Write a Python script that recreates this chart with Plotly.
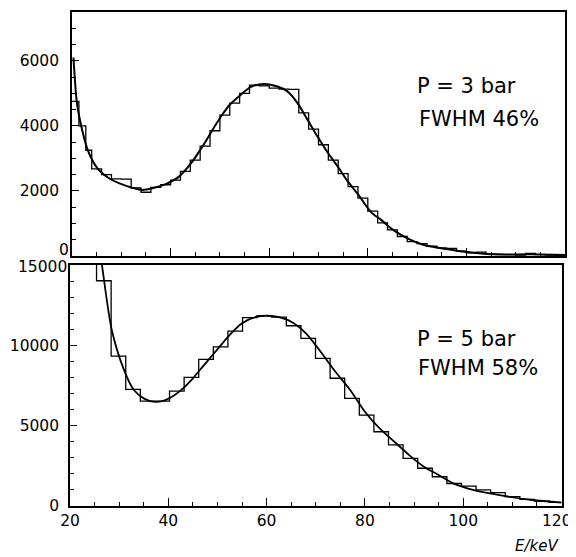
import plotly.graph_objects as go

# ---------------- data ----------------
# top panel (P = 3 bar): histogram bin edges / counts and fitted curve
top_edges = [20, 21.4, 22.8, 24, 26, 28, 30, 32, 34, 36, 38, 40, 42, 44, 46, 48, 50,
             52, 54, 56, 58, 60, 62, 64, 66, 68, 70, 72, 74, 76, 78, 80, 82, 84, 86,
             88, 90, 92, 94, 96, 98, 100, 102, 104, 106, 108, 110, 112, 114, 116, 118, 120]
top_counts = [4750, 4000, 3250, 2680, 2500, 2370, 2360, 2090, 1960, 2110, 2190, 2330,
              2600, 2950, 3380, 3850, 4330, 4700, 5000, 5250, 5230, 5160, 5130, 5120,
              4400, 3900, 3420, 2950, 2530, 2130, 1780, 1380, 1020, 800, 600, 440, 380,
              300, 250, 230, 150, 100, 120, 60, 40, 40, 30, 80, 40, 30, 20]
top_fit_E = [20.3, 20.55, 21.0, 22.05, 23.07, 24.1, 25.4, 27.5, 29.5, 32.2, 34.2, 36.3,
             39.0, 41.7, 44.4, 46.1, 47.5, 48.8, 50.5, 52.0, 54.2, 56.3, 59.0, 61.7,
             63.7, 65.75, 67.8, 69.8, 71.85, 73.9, 75.9, 78.0, 80.65, 82.7, 84.7, 86.75,
             88.8, 90.8, 92.8, 96.2, 99.6, 103.0, 106.4, 113.2, 120.0]
top_fit_N = [6100, 5500, 4700, 3880, 3310, 2950, 2650, 2390, 2240, 2100, 2030, 2080,
             2210, 2440, 2900, 3280, 3620, 3950, 4350, 4650, 4950, 5200, 5290, 5210,
             5060, 4700, 4180, 3670, 3180, 2750, 2300, 1900, 1350, 1110, 850, 650,
             490, 370, 290, 210, 130, 80, 50, 50, 30]

# bottom panel (P = 5 bar)
bot_edges = [22.43, 25.40, 28.37, 31.34, 34.31, 37.28, 40.25, 43.22, 46.19, 49.16,
             52.13, 55.10, 58.07, 61.04, 64.01, 66.98, 69.95, 72.92, 75.89, 78.86,
             81.83, 84.80, 87.77, 90.74, 93.71, 96.68, 99.65, 102.62, 105.59, 108.56,
             111.53, 114.50, 117.47, 120.0]
bot_counts = [16000, 14020, 9330, 7260, 6530, 6530, 7150, 8010, 9130, 9910,
              10890, 11720, 11850, 11750, 11220, 10430, 9190, 7950, 6700, 5660,
              4620, 3800, 2970, 2350, 1820, 1400, 1240, 1000, 830, 580, 415, 300, 230]
bot_fit_E = [25.9, 26.5, 28.5, 31, 33, 35, 37, 39, 41, 43, 45, 47, 49, 51, 52, 55, 58,
             60, 62, 65, 68, 71, 74, 77, 80, 83, 86, 89, 92, 95, 98, 102, 108, 114, 120]
bot_fit_N = [16200, 15000, 10950, 8460, 7220, 6700, 6490, 6550, 6845, 7320, 7950,
             8670, 9400, 10120, 10480, 11370, 11780, 11840, 11780, 11470, 10750, 9600,
             8360, 7220, 5870, 4830, 4000, 3170, 2450, 1930, 1410, 1000, 640, 373, 210]

top_ticks = [0, 2000, 4000, 6000]
top_ticktext = ["", "2000", "4000", "6000"]      # "0" drawn separately (squeezed)
bot_ticks = [0, 5000, 10000, 15000]
bot_ticktext = ["0", "5000", "10000", ""]        # "15000" drawn separately
x_ticks = [20, 40, 60, 80, 100, 120]
x_ticktext = ["20", "40", "60", "80", "100", ""]  # "120" drawn separately

# ---------------- figure ----------------
# the page body has an 8 px margin, so the figure is drawn 8 px smaller
# and positions are given in window pixels minus that offset
OFF = 8
W, H = 576 - OFF, 557 - OFF
def fx(p):
    return (p - OFF) / W
def fy(p):
    return 1 - (p - OFF) / H

FONT = "DejaVu Sans"
TICK_SIZE = 15.5
fig = go.Figure()

fig.add_trace(go.Scatter(x=top_edges, y=top_counts + [top_counts[-1]], mode="lines",
                         line=dict(color="black", width=1.3, shape="hv"),
                         xaxis="x2", yaxis="y2", hoverinfo="skip"))
fig.add_trace(go.Scatter(x=top_fit_E, y=top_fit_N, mode="lines",
                         line=dict(color="black", width=2, shape="spline", smoothing=0.8),
                         xaxis="x2", yaxis="y2", hoverinfo="skip"))
fig.add_trace(go.Scatter(x=bot_edges, y=bot_counts + [bot_counts[-1]], mode="lines",
                         line=dict(color="black", width=1.3, shape="hv"),
                         xaxis="x", yaxis="y", hoverinfo="skip"))
fig.add_trace(go.Scatter(x=bot_fit_E, y=bot_fit_N, mode="lines",
                         line=dict(color="black", width=1.8, shape="spline", smoothing=0.8),
                         xaxis="x", yaxis="y", hoverinfo="skip"))

axis_common = dict(showline=True, linecolor="black", linewidth=1.6, mirror=True,
                   showgrid=False, zeroline=False, ticks="inside", tickcolor="black",
                   tickwidth=1.3, automargin=False, ticklabeloverflow="allow",
                   tickfont=dict(family=FONT, size=TICK_SIZE, color="black"))

fig.update_layout(
    width=W, height=H, showlegend=False,
    margin=dict(l=0, r=0, t=0, b=0),
    paper_bgcolor="white", plot_bgcolor="white",
    xaxis=dict(axis_common, domain=[fx(70), fx(561.5)], range=[20, 120], anchor="y",
               tickvals=x_ticks, ticktext=x_ticktext, ticklen=8, ticklabelstandoff=0,
               minor=dict(dtick=5, ticklen=4, ticks="inside", tickcolor="black", tickwidth=1.1)),
    yaxis=dict(axis_common, domain=[fy(506), fy(265)], range=[0, 15000], anchor="x",
               tickvals=bot_ticks, ticktext=bot_ticktext, ticklen=7, ticklabelstandoff=6,
               minor=dict(dtick=1000, ticklen=4, ticks="inside", tickcolor="black", tickwidth=1.1)),
    xaxis2=dict(axis_common, domain=[fx(72), fx(565)], range=[20, 120], anchor="y2",
                tickvals=x_ticks, ticklen=8, showticklabels=False,
                minor=dict(dtick=5, ticklen=4, ticks="inside", tickcolor="black", tickwidth=1.1)),
    yaxis2=dict(axis_common, domain=[fy(256), fy(12)], range=[0, 7500], anchor="x2",
                tickvals=top_ticks, ticktext=top_ticktext, ticklen=7, ticklabelstandoff=8,
                minor=dict(dtick=500, ticklen=4, ticks="inside", tickcolor="black", tickwidth=1.1)),
)

def label(text, xpx, ypx, size=21, italic=False, xanchor="left"):
    fig.add_annotation(text=text, xref="paper", yref="paper", x=fx(xpx), y=fy(ypx),
                       xanchor=xanchor, yanchor="middle", showarrow=False,
                       borderpad=0, font=dict(family=FONT, size=size, color="black",
                                              style="italic" if italic else "normal"))

label("P = 3 bar", 416, 86)
label("FWHM 46%", 418, 119)
label("P = 5 bar", 416, 339)
label("FWHM 58%", 417, 368)
label("E/keV", 514, 546, size=15, italic=True)

# crowded tick labels placed as in the original
label("0", 70, 250, size=TICK_SIZE, xanchor="right")
label("15000", 68, 267, size=TICK_SIZE, xanchor="right")
label("120", 557, 521, size=TICK_SIZE, xanchor="center")

fig.write_html("out.html")
